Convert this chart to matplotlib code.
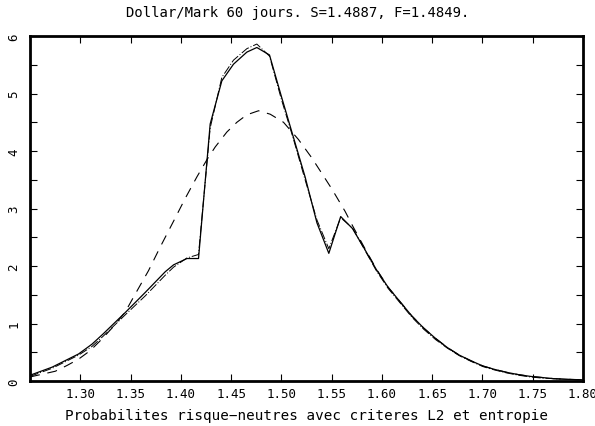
import matplotlib
matplotlib.use("Agg")
import matplotlib.pyplot as plt
from matplotlib.ticker import MultipleLocator

plt.rcParams['font.family'] = ['DejaVu Sans Mono', 'DejaVu Sans']

title = "Dollar/Mark 60 jours. S=1.4887, F=1.4849."
xlabel = "Probabilites risque\u2212neutres avec criteres L2 et entropie"

# Solid curve (L2 criterion)
x_solid = [1.25, 1.2719, 1.2983, 1.3116, 1.3228, 1.3447, 1.3646, 1.3845, 1.3928,
           1.4061, 1.4176, 1.4292, 1.4408, 1.4524, 1.4657, 1.4756, 1.4882, 1.500,
           1.5118, 1.5236, 1.5354, 1.5472, 1.559, 1.5708, 1.5826, 1.5944, 1.6062,
           1.618, 1.6298, 1.6416, 1.6534, 1.6652, 1.677, 1.6888, 1.7006, 1.7124,
           1.7242, 1.736, 1.7478, 1.7596, 1.7714, 1.7832, 1.80]
y_solid = [0.10, 0.24, 0.47, 0.64, 0.82, 1.19, 1.54, 1.90, 2.02,
           2.13, 2.13, 4.47, 5.22, 5.51, 5.72, 5.80, 5.67, 4.95,
           4.25, 3.55, 2.75, 2.22, 2.86, 2.65, 2.30, 1.94, 1.63,
           1.38, 1.13, 0.92, 0.74, 0.58, 0.45, 0.35, 0.26, 0.20,
           0.15, 0.11, 0.08, 0.06, 0.04, 0.03, 0.02]

# Dash-dot curve (close to the solid one)
x_dashdot = x_solid
y_dashdot = [0.08, 0.22, 0.45, 0.60, 0.78, 1.15, 1.48, 1.84, 1.98,
             2.14, 2.20, 4.40, 5.28, 5.58, 5.78, 5.86, 5.65, 4.90,
             4.22, 3.50, 2.80, 2.30, 2.84, 2.66, 2.29, 1.92, 1.61,
             1.36, 1.11, 0.90, 0.72, 0.57, 0.44, 0.34, 0.25, 0.19,
             0.14, 0.10, 0.07, 0.05, 0.04, 0.03, 0.02]

# Dashed curve (entropy criterion)
x_dashed = [1.25, 1.2752, 1.2868, 1.2983, 1.31, 1.3216, 1.3331, 1.3447, 1.3546,
            1.3679, 1.3795, 1.3928, 1.4045, 1.416, 1.426, 1.4342, 1.4458, 1.4558,
            1.4657, 1.4773, 1.4889, 1.5021, 1.517, 1.5303, 1.5502, 1.5634, 1.5708,
            1.5826, 1.5944, 1.6062, 1.618, 1.6298, 1.6416, 1.6534, 1.6652, 1.677,
            1.6888, 1.7006, 1.7124, 1.7242, 1.736, 1.7478, 1.7596, 1.7714, 1.7832, 1.80]
y_dashed = [0.07, 0.17, 0.27, 0.38, 0.53, 0.73, 0.95, 1.20, 1.51,
            1.92, 2.33, 2.78, 3.18, 3.55, 3.85, 4.07, 4.33, 4.50,
            4.63, 4.70, 4.64, 4.50, 4.20, 3.88, 3.34, 2.95, 2.70,
            2.32, 1.95, 1.63, 1.38, 1.13, 0.92, 0.74, 0.58, 0.45,
            0.35, 0.26, 0.20, 0.15, 0.11, 0.08, 0.06, 0.04, 0.03, 0.02]

xticks = [1.30, 1.35, 1.40, 1.45, 1.50, 1.55, 1.60, 1.65, 1.70, 1.75, 1.80]
xticklabels = ["1.30", "1.35", "1.40", "1.45", "1.50", "1.55", "1.60", "1.65", "1.70", "1.75", "1.80"]
yticks = [0, 1, 2, 3, 4, 5, 6]
yticklabels = ["0", "1", "2", "3", "4", "5", "6"]

fig = plt.figure(figsize=(5.95, 4.27), dpi=100)
ax = fig.add_axes([30/595, 1-382/427, (583-30)/595, (382-37)/427])

ax.plot(x_solid, y_solid, color="black", lw=0.9, ls="-")
ax.plot(x_dashdot, y_dashdot, color="black", lw=0.7, ls=(0, (9, 2, 1, 2)))
ax.plot(x_dashed, y_dashed, color="black", lw=0.8, ls=(0, (9, 7)))

ax.set_xlim(1.25, 1.80)
ax.set_ylim(0, 6)

ax.set_xticks(xticks)
ax.set_xticklabels(xticklabels, fontsize=9)
ax.xaxis.set_minor_locator(MultipleLocator(0.05))
ax.set_yticks(yticks)
ax.set_yticklabels(yticklabels, fontsize=9, rotation=90, va="center")
ax.yaxis.set_minor_locator(MultipleLocator(0.5))

ax.tick_params(axis="both", which="both", direction="in", top=True, right=True,
               width=0.8, color="black")
ax.tick_params(axis="x", which="major", length=5, pad=4)
ax.tick_params(axis="x", which="minor", length=5)
ax.tick_params(axis="y", which="major", length=5, pad=7)
ax.tick_params(axis="y", which="minor", length=5)

for s in ax.spines.values():
    s.set_linewidth(2.0)

ax.set_xlabel(xlabel, fontsize=10.3, labelpad=6)
fig.text(0.5, 1-13/427, title, ha="center", va="center", fontsize=10)

fig.savefig("out.png", dpi=100)
